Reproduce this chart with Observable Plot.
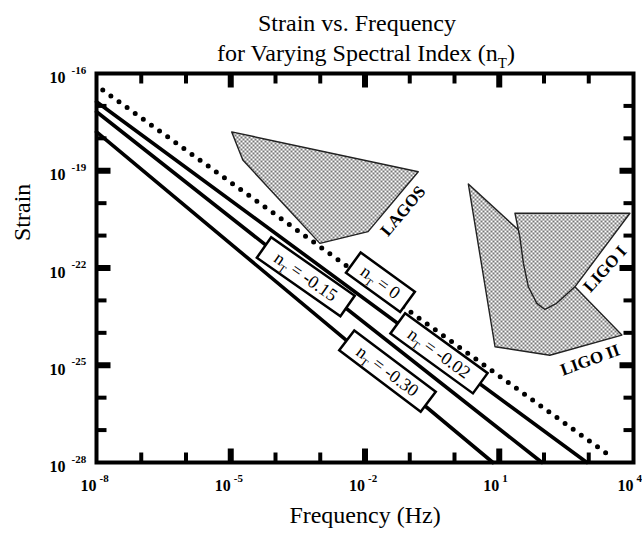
<!DOCTYPE html>
<html><head><meta charset="utf-8">
<script src="https://cdn.jsdelivr.net/npm/d3@7"></script>
<script src="https://cdn.jsdelivr.net/npm/@observablehq/plot@0.6"></script>
<style>body{margin:0;background:#fff;}</style>
</head><body><div id="chart"></div>
<script>
// ---- data ----
const spectralIndex = [0, -0.02, -0.15, -0.30];
const lineLabel = ["nT = 0", "nT = -0.02", "nT = -0.15", "nT = -0.30"];
// each line is straight in log-log: start and end points (Hz, strain)
const lineStartF = [1.38e-8, 1e-8, 1e-8, 1e-8];
const lineStartH = [3.09e-17, 1.35e-17, 6.6e-18, 1.58e-18];
const lineEndF = [3.3e3, 9.1e2, 90, 7.2];
const lineEndH = [1.45e-28, 1e-28, 1e-28, 1e-28];
// label boxes
const labelF = [0.0221, 0.451, 4.75e-4, 0.0318];
const labelH = [3.63e-23, 2.34e-25, 5.37e-23, 6.61e-26];
const labelAngle = [36, 36, 35, 37];

// detector regions
const lagosF = [1.05e-5, 1.86e-5, 9.8e-4, 0.0117, 0.155];
const lagosH = [1.58e-18, 2.14e-19, 5.75e-22, 1.32e-21, 9.3e-20];
const ligo2F = [2.04, 26.9, 81.3, 490, 5495, 135, 8.04];
const ligo2H = [3.89e-20, 1.48e-21, 8.13e-24, 2.63e-23, 8.51e-25, 2.04e-25, 3.72e-25];
const ligo1F = [22.4, 8318, 490, 191, 105, 69.2, 44.7, 34.7, 28.8];
const ligo1H = [4.9e-21, 4.9e-21, 2.63e-23, 8.13e-24, 5.25e-24, 8.13e-24, 2.63e-23, 1.38e-22, 9.12e-22];
const regionName = ["LAGOS", "LIGO I", "LIGO II"];
const regionLabelF = [0.0708, 2307, 1072];
const regionLabelH = [5.75e-21, 9.33e-23, 1.45e-25];
const regionLabelAngle = [-50, -48, -20];

// axes
const xMajor = [1e-8, 1e-5, 1e-2, 1e1, 1e4];
const xMajorExp = ["-8", "-5", "-2", "1", "4"];
const xMinor = [1e-7, 1e-6, 1e-4, 1e-3, 1e-1, 1, 1e2, 1e3];
const yMajor = [1e-16, 1e-19, 1e-22, 1e-25, 1e-28];
const yMajorExp = ["-16", "-19", "-22", "-25", "-28"];
const yMinor = [1e-17, 1e-18, 1e-20, 1e-21, 1e-23, 1e-24, 1e-26, 1e-27];

// ---- build tables ----
const lines = spectralIndex.flatMap((n, i) => [
  {n, f: lineStartF[i], h: lineStartH[i]},
  {n, f: lineEndF[i], h: lineEndH[i]}
]);
const labels = spectralIndex.map((n, i) => ({n, text: lineLabel[i], f: labelF[i], h: labelH[i], a: labelAngle[i]}));
const lagos = lagosF.map((f, i) => ({f, h: lagosH[i]}));
const ligo1 = ligo1F.map((f, i) => ({f, h: ligo1H[i]}));
const ligo2 = ligo2F.map((f, i) => ({f, h: ligo2H[i]}));
const regionLabels = regionName.map((name, i) => ({name, f: regionLabelF[i], h: regionLabelH[i], a: regionLabelAngle[i]}));

const box = (w, h) => ({draw(ctx) { ctx.rect(-w / 2, -h / 2, w, h); }});
// a tick drawn as a small filled bar pointing "up" from its anchor, rotated per side
const tickSym = (len, w) => ({draw(ctx) { ctx.rect(-w / 2, -len, w, len); }});
const regionStyle = {x: "f", y: "h", curve: "linear-closed", fill: "url(#stipple)", stroke: "#222", strokeWidth: 1.4};

function tickMarks(data, side, len, w) {
  const rot = {bottom: 0, top: 180, left: 90, right: -90}[side];
  const ch = (side === "bottom" || side === "top") ? {x: d => d} : {y: d => d};
  return Plot.dot(data, {...ch, frameAnchor: side, rotate: rot, symbol: tickSym(len, w), fill: "black", stroke: "none"});
}
const innerX = xMajor.slice(1, -1), innerY = yMajor.slice(1, -1);

const plot = Plot.plot({
  width: 642, height: 542,
  marginLeft: 96, marginRight: 9, marginTop: 73, marginBottom: 80,
  x: {type: "log", domain: [1e-8, 1e4], axis: null},
  y: {type: "log", domain: [1e-28, 1e-16], axis: null},
  style: {fontFamily: "'Liberation Serif', 'Times New Roman', serif", background: "white", color: "black"},
  marks: [
    Plot.line(lagos, regionStyle),
    Plot.line(ligo2, regionStyle),
    Plot.line(ligo1, regionStyle),
    tickMarks(xMinor, "bottom", 10, 4),
    tickMarks(innerX, "bottom", 14, 6),
    tickMarks(xMinor, "top", 10, 4),
    tickMarks(innerX, "top", 14, 6),
    tickMarks(yMinor, "left", 10, 4),
    tickMarks(innerY, "left", 14, 6),
    tickMarks(yMinor, "right", 10, 4),
    tickMarks(innerY, "right", 14, 6),
    Plot.line(lines.filter(d => d.n === 0), {x: "f", y: "h", stroke: "black", strokeWidth: 5, strokeDasharray: "0,10", strokeLinecap: "round"}),
    Plot.line(lines.filter(d => d.n !== 0), {x: "f", y: "h", z: "n", stroke: "black", strokeWidth: 3.6}),
    Plot.dot(labels.filter(d => d.n === 0), {x: "f", y: "h", rotate: "a", symbol: box(67, 25), fill: "white", stroke: "black", strokeWidth: 2.5}),
    Plot.dot(labels.filter(d => d.n !== 0), {x: "f", y: "h", rotate: "a", symbol: box(102, 25), fill: "white", stroke: "black", strokeWidth: 2.5}),
    Plot.text(labels, {x: "f", y: "h", rotate: "a", text: "text", fontSize: 18}),
    Plot.text(regionLabels, {x: "f", y: "h", rotate: "a", text: "name", fontSize: 17, fontWeight: "bold"}),
    Plot.frame({stroke: "black", strokeWidth: 4}),
    Plot.text(xMajor, {x: d => d, frameAnchor: "bottom", text: () => "10", textAnchor: "end", dy: 28, fontSize: 16, fontWeight: "bold"}),
    Plot.text(xMajor, {x: d => d, frameAnchor: "bottom", text: (d, i) => xMajorExp[i], textAnchor: "start", dx: 3, dy: 19, fontSize: 11, fontWeight: "bold"}),
    Plot.text(yMajor, {y: d => d, frameAnchor: "left", text: () => "10", textAnchor: "end", dx: -31, dy: 4.5, fontSize: 16, fontWeight: "bold"}),
    Plot.text(yMajor, {y: d => d, frameAnchor: "left", text: (d, i) => yMajorExp[i], textAnchor: "start", dx: -25, dy: -3.5, fontSize: 11, fontWeight: "bold"}),
    Plot.text(["Strain vs. Frequency"], {text: d => d, frameAnchor: "top", dx: -8, dy: -60, fontSize: 24}),
    Plot.text(["for Varying Spectral Index (nT)"], {text: d => d, frameAnchor: "top", dx: 1, dy: -30, fontSize: 24}),
    Plot.text(["Frequency (Hz)"], {text: d => d, frameAnchor: "bottom", dy: 60, fontSize: 24}),
    Plot.text(["Strain"], {text: d => d, frameAnchor: "left", rotate: -90, dx: -74, dy: -27, fontSize: 24})
  ]
});

// stipple pattern
const svg = d3.select(plot);
const defs = svg.insert("defs", ":first-child");
const pat = defs.append("pattern").attr("id", "stipple").attr("width", 4).attr("height", 4).attr("patternUnits", "userSpaceOnUse");
pat.append("rect").attr("width", 4).attr("height", 4).attr("fill", "#fff");
pat.append("rect").attr("width", 2).attr("height", 2).attr("fill", "#777");
pat.append("rect").attr("x", 2).attr("y", 2).attr("width", 2).attr("height", 2).attr("fill", "#777");

document.getElementById("chart").appendChild(plot);

// subscripts for n_T
svg.selectAll("text").each(function () {
  const t = this.textContent;
  const k = t.indexOf("nT");
  if (k < 0 || this.querySelector("tspan")) return;
  const fs = parseFloat(getComputedStyle(this).fontSize) || 18;
  const sub = Math.round(fs * 0.62);
  const shift = Math.round(fs * 0.28);
  const el = d3.select(this);
  el.text(t.slice(0, k + 1));
  el.append("tspan").attr("font-size", sub).attr("dy", shift).text("T");
  el.append("tspan").attr("dy", -shift).text(t.slice(k + 2));
});
</script>
</body></html>
